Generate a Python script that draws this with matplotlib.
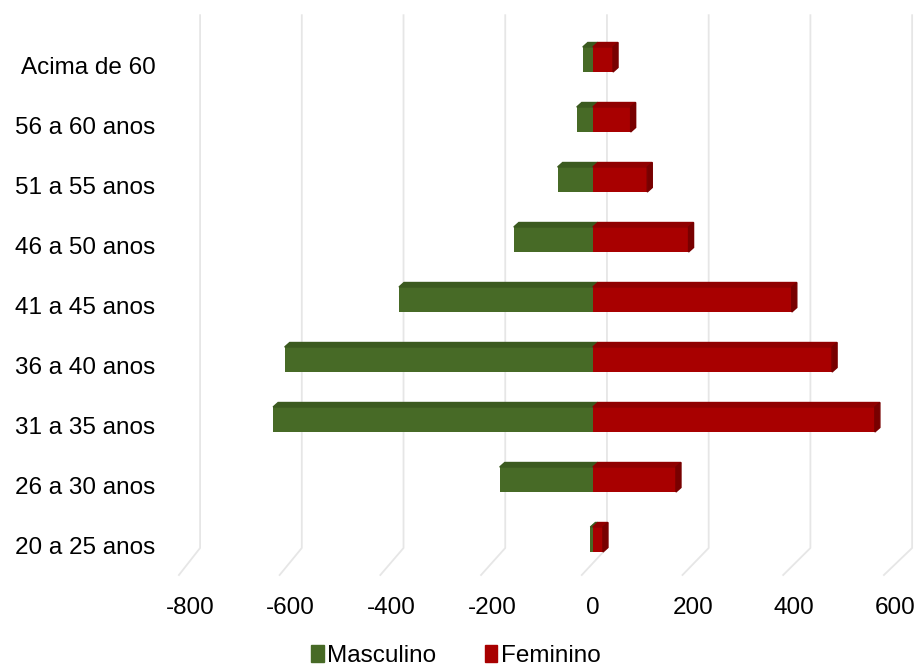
import matplotlib.pyplot as plt
from matplotlib.patches import Polygon, Patch

plt.rcParams['font.family'] = ['Liberation Sans', 'DejaVu Sans']

# dados da pirâmide
faixas = ['20 a 25 anos', '26 a 30 anos', '31 a 35 anos', '36 a 40 anos', '41 a 45 anos',
          '46 a 50 anos', '51 a 55 anos', '56 a 60 anos', 'Acima de 60']
masculino = [5, 185, 635, 612, 385, 157, 70, 32, 20]
feminino = [20, 165, 560, 475, 395, 190, 108, 75, 40]
ticks_x = [-800, -600, -400, -200, 0, 200, 400, 600]

verde, verde_esc = '#476a26', '#3b5a1f'
vermelho, vermelho_esc, vermelho_lado = '#a80000', '#900000', '#780000'

fig = plt.figure(figsize=(9.17, 6.69), dpi=100)
ax = fig.add_axes([190 / 917, 1 - 575 / 669, 705 / 917, 540 / 669])
ax.set_xlim(-800, 600)
ax.set_ylim(-0.5, 8.5)

# linhas de grade com "perspectiva" (parede do fundo + chão)
for v in ticks_x:
    xb = v * 1.01 + 28
    ax.plot([xb, xb, v - 22], [8.83, -0.05, -0.5], color='#e6e6e6', lw=1.3,
            clip_on=False, zorder=0)

# barras com efeito 3D
alt = 0.417
dx, dy = 10, 0.075
for i in range(len(faixas)):
    yb = i - 0.117
    yt = yb + alt
    m = masculino[i]
    f = feminino[i]
    ax.barh(yb, -m, height=alt, align='edge', color=verde, zorder=2)
    ax.barh(yb, f, height=alt, align='edge', color=vermelho, zorder=2)
    ax.add_patch(Polygon([(-m, yt), (0, yt), (dx, yt + dy), (-m + dx, yt + dy)],
                         closed=True, color=verde_esc, zorder=2))
    ax.add_patch(Polygon([(0, yt), (f, yt), (f + dx, yt + dy), (dx, yt + dy)],
                         closed=True, color=vermelho_esc, zorder=2))
    ax.add_patch(Polygon([(f, yb), (f, yt), (f + dx, yt + dy), (f + dx, yb + dy)],
                         closed=True, color=vermelho_lado, zorder=2))

ax.set_xticks(ticks_x)
ax.set_xticklabels([str(t) for t in ticks_x])
ax.set_yticks(range(len(faixas)))
ax.set_yticklabels(faixas)
ax.tick_params(axis='x', length=0, pad=16, labelsize=17.5)
ax.tick_params(axis='y', length=0, pad=25, labelsize=17.5)
for s in ax.spines.values():
    s.set_visible(False)

handles = [Patch(color=verde, label='Masculino'), Patch(color=vermelho, label='Feminino')]
fig.legend(handles=handles, loc='center', bbox_to_anchor=(456 / 917, 1 - 656 / 669),
           ncol=2, frameon=False, fontsize=17.5, handlelength=0.5, handleheight=0.65,
           handletextpad=0.15, columnspacing=2.0, borderpad=0)

fig.savefig('out.png', dpi=100)
